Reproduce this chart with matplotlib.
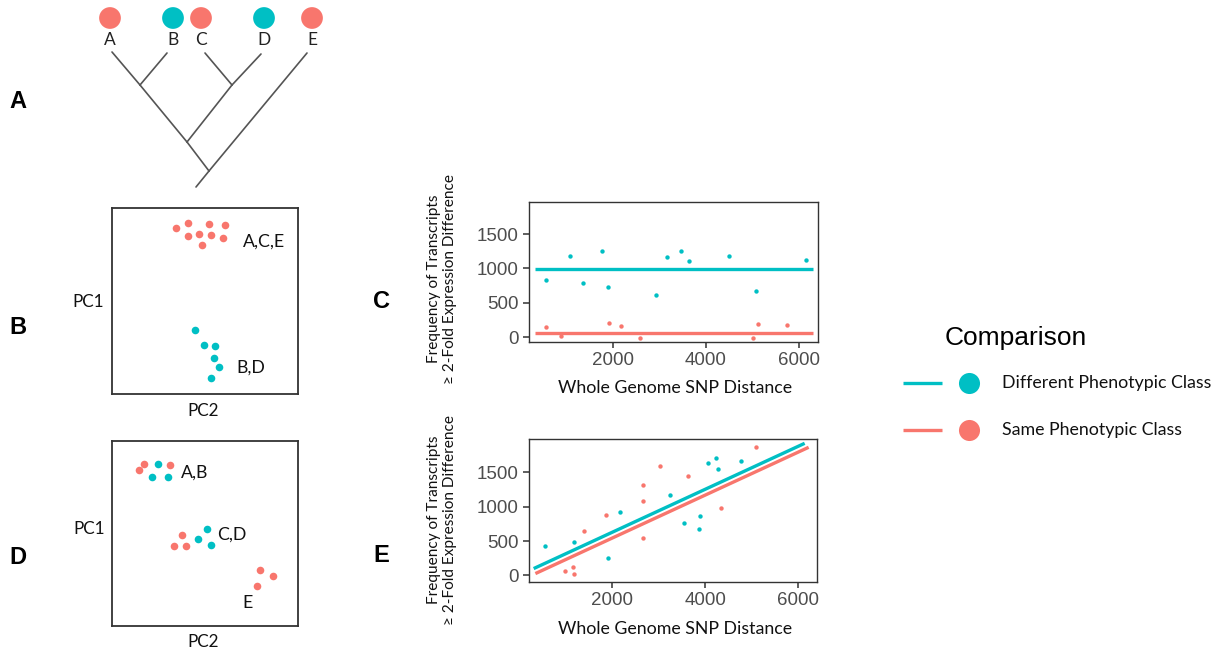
import matplotlib
matplotlib.use("Agg")
import matplotlib.pyplot as plt

W, H = 1221, 652
TEAL = "#00BFC4"
SALMON = "#F8766D"
CLASS_COLORS = {"diff": TEAL, "same": SALMON}
BODY_FONT = ["Lato", "DejaVu Sans"]
TICK_FONT = ["Liberation Sans", "DejaVu Sans"]

# panel A: tree
tip_names = ["A", "B", "C", "D", "E"]
tip_class = ["same", "diff", "same", "diff", "same"]
tip_x = [110, 173, 201, 264, 312]
branch_start = [(112, 52), (167, 53), (140, 85), (205, 53), (261, 54), (232, 85), (187, 142), (307, 53), (209, 171)]
branch_end = [(140, 85), (140, 85), (187, 142), (232, 85), (232, 85), (187, 142), (209, 171), (209, 171), (196, 187)]

# panel B: PCA by phenotype
b_same_x = [34.4, 40.9, 52.2, 60.8, 40.9, 46.8, 53.2, 59.7, 48.4]
b_same_y = [89.2, 91.9, 91.4, 90.9, 84.9, 86.0, 85.5, 83.9, 80.1]
b_diff_x = [44.6, 49.5, 55.4, 54.8, 57.5, 53.2]
b_diff_y = [34.4, 26.3, 25.8, 19.4, 14.5, 8.6]
b_labels = ["A,C,E", "B,D"]
b_label_x = [70.4, 66.7]
b_label_y = [81.7, 14.0]

# panel D: PCA by genome
d_same_x = [14.5, 17.2, 31.2, 37.6, 33.3, 39.8, 79.6, 86.6, 78.0]
d_same_y = [84.3, 87.6, 87.0, 49.2, 43.2, 43.2, 30.3, 27.0, 21.6]
d_diff_x = [24.7, 21.5, 30.1, 51.1, 46.2, 53.2]
d_diff_y = [87.6, 80.5, 80.5, 52.4, 47.0, 43.8]
d_labels = ["A,B", "C,D", "E"]
d_label_x = [37.0, 56.5, 72.6]
d_label_y = [82.7, 49.2, 12.4]

# panel C: expression differences vs SNP distance (phenotype)
c_diff_x = [559, 1075, 1363, 1763, 1908, 2925, 3170, 3471, 3643, 4495, 5069, 6144]
c_diff_y = [828, 1181, 793, 1254, 735, 610, 1162, 1254, 1113, 1181, 673, 1123]
c_same_x = [559, 890, 1923, 2181, 2581, 5011, 5112, 5735]
c_same_y = [150, 15, 203, 169, -10, -10, 189, 179]
c_fit_x = [335, 6310]
c_fit_diff = [992, 992]
c_fit_same = [62, 62]

# panel E: expression differences vs SNP distance (genome)
e_diff_x = [553, 1161, 1901, 2172, 3234, 3542, 3858, 3892, 4065, 4224, 4280, 4761]
e_diff_y = [424, 492, 253, 917, 1165, 756, 672, 858, 1633, 1715, 1545, 1671]
e_same_x = [983, 1155, 1176, 1385, 1865, 2660, 2660, 2660, 3019, 3628, 4344, 5097]
e_same_y = [63, 127, 19, 639, 873, 1320, 1077, 546, 1594, 1447, 975, 1867]
e_fit_diff_x = [301, 6144]
e_fit_diff_y = [98, 1925]
e_fit_same_x = [338, 6230]
e_fit_same_y = [25, 1867]

x_ticks = [2000, 4000, 6000]
y_ticks = [0, 500, 1000, 1500]
legend_labels = ["Different Phenotypic Class", "Same Phenotypic Class"]
legend_colors = [TEAL, SALMON]


def px_axes(fig, x0, y0, x1, y1):
    return fig.add_axes([x0 / W, 1 - y1 / H, (x1 - x0) / W, (y1 - y0) / H])


def pca_panel(fig, box, same_x, same_y, diff_x, diff_y, labels, lx, ly, ha):
    ax = px_axes(fig, *box)
    ax.scatter(same_x, same_y, s=30, color=SALMON, linewidths=0)
    ax.scatter(diff_x, diff_y, s=30, color=TEAL, linewidths=0)
    for text, x, y, h in zip(labels, lx, ly, ha):
        ax.text(x, y, text, ha=h, va="center", fontsize=12.8, family=BODY_FONT, color="#111111")
    ax.set_xlim(0, 100)
    ax.set_ylim(0, 100)
    ax.set_xticks([])
    ax.set_yticks([])
    for spine in ax.spines.values():
        spine.set_color("#333333")
        spine.set_linewidth(1.3)
    return ax


def scatter_panel(fig, box, ylim):
    ax = px_axes(fig, *box)
    ax.set_xlim(200, 6410)
    ax.set_ylim(*ylim)
    ax.set_xticks(x_ticks)
    ax.set_yticks(y_ticks)
    ax.tick_params(length=4.5, width=1.1, color="#333333", labelcolor="#4D4D4D",
                   labelsize=13.5, pad=3)
    for lab in ax.get_xticklabels() + ax.get_yticklabels():
        lab.set_family(TICK_FONT)
    for spine in ax.spines.values():
        spine.set_color("#333333")
        spine.set_linewidth(1.0)
    return ax


fig = plt.figure(figsize=(W / 100, H / 100), dpi=100)

# panel C
ax_c = scatter_panel(fig, (529, 202, 818, 342), (-68, 1966))
ax_c.plot(c_fit_x, c_fit_diff, color=TEAL, lw=2.4, solid_capstyle="butt")
ax_c.plot(c_fit_x, c_fit_same, color=SALMON, lw=2.4, solid_capstyle="butt")
ax_c.scatter(c_diff_x, c_diff_y, s=10, color=TEAL, linewidths=0, zorder=3)
ax_c.scatter(c_same_x, c_same_y, s=10, color=SALMON, linewidths=0, zorder=3)

# panel E
ax_e = scatter_panel(fig, (529, 439, 817, 582), (-98, 1988))
ax_e.plot(e_fit_diff_x, e_fit_diff_y, color=TEAL, lw=2.4, solid_capstyle="butt")
ax_e.plot(e_fit_same_x, e_fit_same_y, color=SALMON, lw=2.4, solid_capstyle="butt")
ax_e.scatter(e_diff_x, e_diff_y, s=10, color=TEAL, linewidths=0, zorder=3)
ax_e.scatter(e_same_x, e_same_y, s=10, color=SALMON, linewidths=0, zorder=3)

for ax, xl_y, yl_y in [(ax_c, 388, 279), (ax_e, 629, 520)]:
    fig.text(675 / W, 1 - xl_y / H, "Whole Genome SNP Distance", ha="center", va="center",
             fontsize=12.8, family=BODY_FONT, color="#111111")
    fig.text(442 / W, 1 - yl_y / H, "Frequency of Transcripts\n\u2265 2-Fold Expression Difference",
             ha="center", va="center", rotation=90, fontsize=11.1, family=BODY_FONT,
             color="#111111", linespacing=1.2)

# panels B and D
pca_panel(fig, (112, 208, 298, 394), b_same_x, b_same_y, b_diff_x, b_diff_y,
          b_labels, b_label_x, b_label_y, ["left", "left"])
pca_panel(fig, (112, 441, 298, 626), d_same_x, d_same_y, d_diff_x, d_diff_y,
          d_labels, d_label_x, d_label_y, ["left", "left", "center"])
for px, py, text in [(88, 302, "PC1"), (203, 411, "PC2"), (89, 529, "PC1"), (203, 642, "PC2")]:
    fig.text(px / W, 1 - py / H, text, ha="center", va="center", fontsize=12.3,
             family=BODY_FONT, color="#111111")

# overlay in pixel coordinates: tree, panel letters, legend
ov = fig.add_axes([0, 0, 1, 1])
ov.set_xlim(0, W)
ov.set_ylim(H, 0)
ov.axis("off")

for (x0, y0), (x1, y1) in zip(branch_start, branch_end):
    ov.plot([x0, x1], [y0, y1], color="#555555", lw=1.2, solid_capstyle="round")
ov.scatter(tip_x, [18] * len(tip_x), s=245, color=[CLASS_COLORS[c] for c in tip_class], linewidths=0)
for name, x in zip(tip_names, tip_x):
    ov.text(x, 40, name, ha="center", va="center", fontsize=12.5, family=BODY_FONT, color="#222222")

for letter, x, y in [("A", 18, 101), ("B", 18, 327), ("C", 382, 301), ("D", 18, 557), ("E", 381, 556)]:
    ov.text(x, y, letter, ha="center", va="center", fontsize=17, fontweight="bold",
            family=TICK_FONT, color="black")

ov.text(945, 338, "Comparison", ha="left", va="center", fontsize=19, family=TICK_FONT, color="black")
for label, color, y in zip(legend_labels, legend_colors, [383, 430]):
    ov.plot([903, 942], [y, y], color=color, lw=2.4, solid_capstyle="butt")
    ov.scatter([969], [y], s=230, color=color, linewidths=0)
    ov.text(1002, y, label, ha="left", va="center", fontsize=12.8, family=BODY_FONT, color="#111111")

fig.savefig("out.png", dpi=100)
